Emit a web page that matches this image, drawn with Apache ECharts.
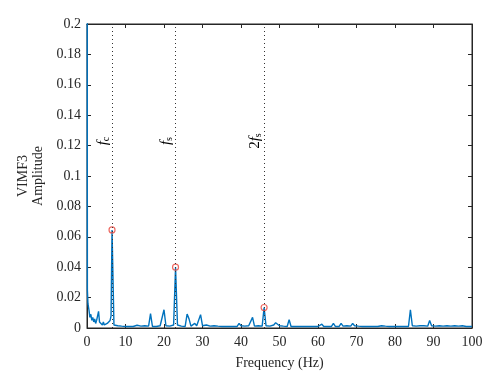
<!DOCTYPE html>
<html>
<head>
<meta charset="utf-8">
<script src="https://cdn.jsdelivr.net/npm/echarts@6/dist/echarts.min.js"></script>
<style>html,body{margin:0;padding:0;background:#fff}#c{width:500px;height:388px}</style>
</head>
<body>
<div id="c"></div>
<script>
// Low-frequency detail from 0 Hz to 6.25 Hz: [frequency (Hz), amplitude]
const lowBand = [
  [0, 0.5], [0.1, 0.025], [0.25, 0.016], [0.5, 0.012], [0.75, 0.007], [1, 0.009], [1.25, 0.005],
  [1.5, 0.007], [1.75, 0.004], [2, 0.006], [2.25, 0.003], [2.5, 0.005], [2.75, 0.004], [3, 0.011],
  [3.25, 0.004], [3.5, 0.003], [3.75, 0.005], [4, 0.002], [4.25, 0.004], [4.5, 0.002], [4.75, 0.003],
  [5, 0.0015], [5.25, 0.003], [5.5, 0.002], [5.75, 0.004], [6, 0.005], [6.25, 0.008]
];
// Spectrum sampled every 0.5 Hz from 6.5 Hz to 100 Hz
const gridStart = 6.5;
const gridStep = 0.5;
const amps = [
  0.0645,0.002,0.001,0.0015,0.001,0.0012,0.002,0.001,
  0.0015,0.001,0.0012,0.001,0.0015,0.0018,0.001,0.0012,0.001,0.0015, 0.001,0.0012,0.0095,0.001,0.0015,0.001,0.0012,0.0015,0.0025,0.012,
  0.0015,0.001,0.0012,0.0015,0.002,0.040,0.002,0.001,0.0012,0.0015, 0.001,0.0092,0.006,0.0012,0.0015,0.003,0.0015,0.002,0.0088,0.0015,
  0.001,0.002,0.001,0.0012,0.001,0.0015,0.001,0.0012,0.002,0.001, 0.0012,0.001,0.0015,0.001,0.0012,0.001,0.0015,0.001,0.003,0.0015,
  0.001,0.0012,0.001,0.0015,0.001,0.007,0.0012,0.001,0.0015,0.001, 0.0012,0.0135,0.0015,0.001,0.0012,0.001,0.002,0.0035,0.003,0.0015,
  0.001,0.0012,0.0015,0.001,0.0055,0.001,0.0012,0.001,0.0015,0.001, 0.0012,0.001,0.0015,0.001,0.0012,0.001,0.0015,0.001,0.0012,0.001,
  0.002,0.0025,0.001,0.0012,0.001,0.0015,0.001,0.003,0.001,0.0012, 0.001,0.003,0.0012,0.001,0.0015,0.001,0.0012,0.003,0.0015,0.001,
  0.0012,0.0015,0.001,0.0012,0.001,0.0015,0.001,0.0012,0.001,0.0015, 0.001,0.0012,0.0015,0.001,0.0012,0.002,0.001,0.0015,0.001,0.002,
  0.001,0.0015,0.001,0.0012,0.001,0.0015,0.001,0.012,0.0015,0.001, 0.0012,0.001,0.0015,0.002,0.0015,0.001,0.0012,0.005,0.0015,0.001,
  0.0012,0.001,0.0015,0.001,0.0012,0.001,0.0015,0.001,0.0012,0.002, 0.0015,0.001,0.0012,0.001,0.0015,0.0018,0.001,0.0012,0.001,0.001
];
// Marked peaks
const peakFreqs = [6.5, 23, 46];
const peakAmps = [0.0645, 0.040, 0.0135];
// Annotation labels for the dotted lines
const markFreqs = [6.5, 23, 46];
const markTexts = ['{f|f}{s|c}', '{f|f}{s|s}', '{n|2}{f|f}{s|s}'];
const markLabelAmp = 0.123;
const xTicks = [0, 10, 20, 30, 40, 50, 60, 70, 80, 90, 100];

const spectrum = lowBand.concat(amps.map((a, i) => [gridStart + i * gridStep, a]));
const peaks = peakFreqs.map((f, i) => [f, peakAmps[i]]);

const FONT = '"Liberation Serif", "DejaVu Serif", serif';
const AX = '#262626';
const chart = echarts.init(document.getElementById('c'), null, {renderer: 'canvas'});

const axisCommon = {
  axisLine: {show: true, onZero: false, lineStyle: {color: AX, width: 1}},
  axisTick: {show: true, inside: true, length: 4, lineStyle: {color: AX}},
  splitLine: {show: false}
};

chart.setOption({
  animation: false,
  backgroundColor: '#fff',
  grid: {left: 87, right: 28, top: 24, bottom: 60, show: true, borderColor: AX, borderWidth: 1, backgroundColor: 'transparent'},
  xAxis: [
    Object.assign({}, axisCommon, {
      type: 'value', min: xTicks[0], max: xTicks[xTicks.length - 1], interval: 10, position: 'bottom',
      axisLabel: {margin: 7, fontFamily: FONT, fontSize: 14, color: AX},
      name: 'Frequency (Hz)', nameLocation: 'middle', nameGap: 28,
      nameTextStyle: {fontFamily: FONT, fontSize: 14, color: AX}
    }),
    Object.assign({}, axisCommon, {
      type: 'value', min: 0, max: 100, interval: 10, position: 'top', axisLabel: {show: false}
    })
  ],
  yAxis: [
    Object.assign({}, axisCommon, {
      type: 'value', min: 0, max: 0.2, interval: 0.02, position: 'left',
      axisLabel: {margin: 6, fontFamily: FONT, fontSize: 14, color: AX},
      name: 'VIMF3\nAmplitude', nameLocation: 'middle', nameGap: 41, nameRotate: 90,
      nameTextStyle: {fontFamily: FONT, fontSize: 14, color: AX, lineHeight: 15}
    }),
    Object.assign({}, axisCommon, {
      type: 'value', min: 0, max: 0.2, interval: 0.02, position: 'right', axisLabel: {show: false}
    })
  ],
  series: [
    {
      type: 'line', data: [], z: 1, silent: true,
      markLine: {
        silent: true, symbol: ['none', 'none'], label: {show: false},
        lineStyle: {color: '#333', width: 1, type: [1, 3]},
        data: markFreqs.map(f => ({xAxis: f}))
      }
    },
    {
      type: 'line', data: spectrum, showSymbol: false, z: 3, clip: true,
      lineStyle: {color: '#0072BD', width: 1.4}, itemStyle: {color: '#0072BD'}
    },
    {
      type: 'scatter', data: peaks, z: 4, symbol: 'circle', symbolSize: 6,
      itemStyle: {color: 'rgba(255,255,255,0)', borderColor: '#e8463c', borderWidth: 1.2}
    }
  ]
});

const rich = {
  f: {fontFamily: FONT, fontStyle: 'italic', fontSize: 15, color: AX, lineHeight: 16},
  n: {fontFamily: FONT, fontSize: 15, color: AX, lineHeight: 16},
  s: {fontFamily: FONT, fontSize: 10, color: AX, verticalAlign: 'bottom', lineHeight: 12, padding: [6, 0, 0, 0]}
};
const graphics = markFreqs.map((f, i) => {
  const p = chart.convertToPixel({gridIndex: 0}, [f, markLabelAmp]);
  return {
    type: 'text', x: p[0] - 1, y: p[1], rotation: Math.PI / 2, z: 10,
    style: {text: markTexts[i], rich: rich, align: 'center', verticalAlign: 'bottom'}
  };
});
chart.setOption({graphic: graphics});
</script>
</body>
</html>
